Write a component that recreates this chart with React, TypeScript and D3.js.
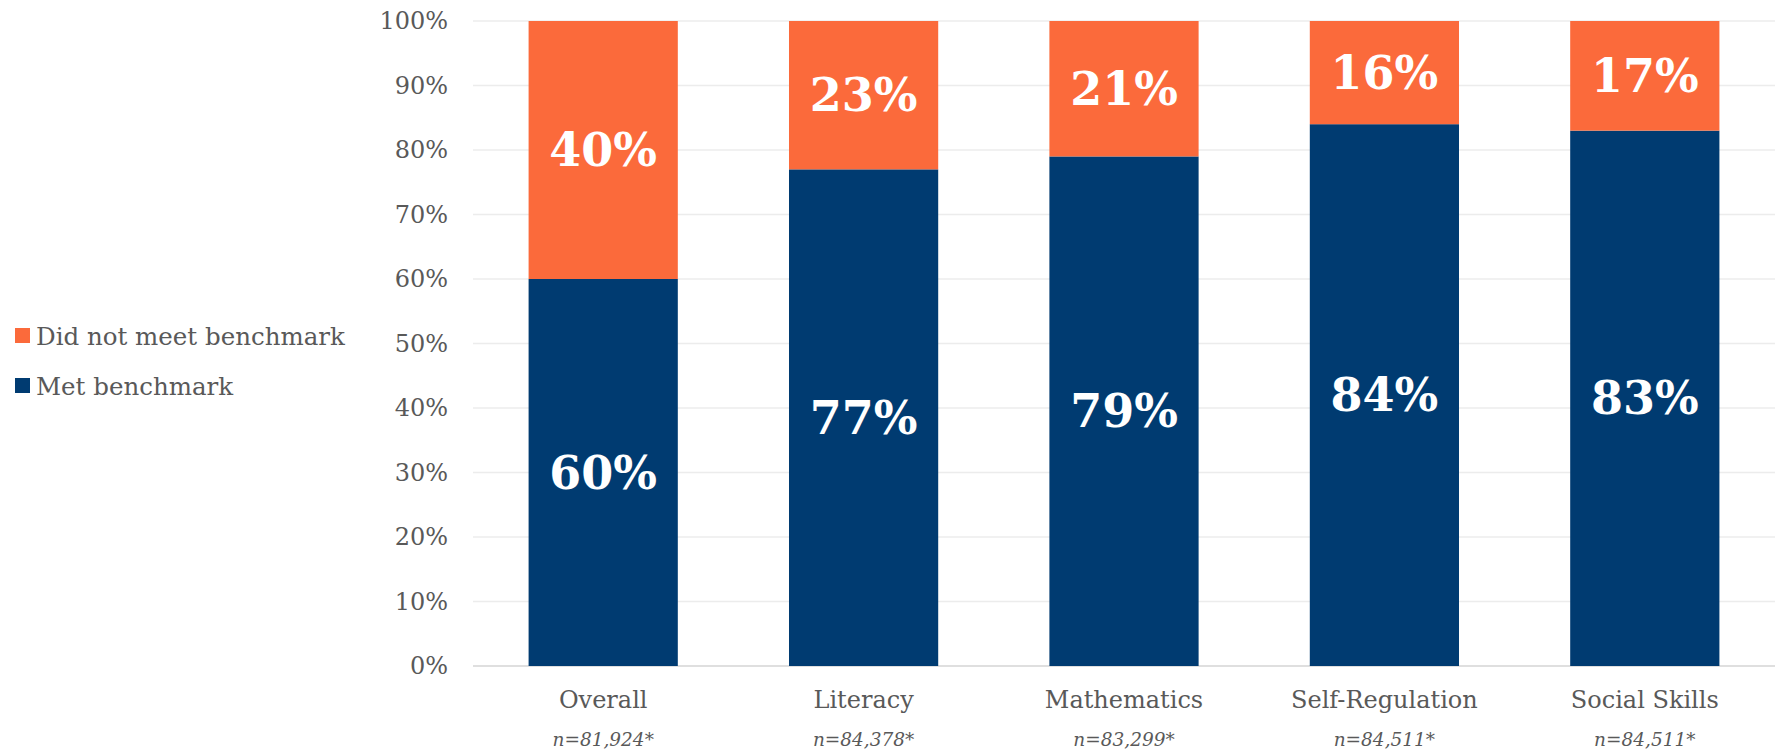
import React from "react";
import * as d3 from "d3";

const categories = ["Overall", "Literacy", "Mathematics", "Self-Regulation", "Social Skills"];
const sampleSizes = ["n=81,924*", "n=84,378*", "n=83,299*", "n=84,511*", "n=84,511*"];
const metBenchmark = [60, 77, 79, 84, 83];
const didNotMeet = [40, 23, 21, 16, 17];
const yTicks = [0, 10, 20, 30, 40, 50, 60, 70, 80, 90, 100];

const NAVY = "#003B71";
const ORANGE = "#FB6A3B";
const FONT = "'DejaVu Serif', Georgia, serif";

export default function App() {
  const W = 1775, H = 750;
  const x0 = 473, x1 = 1775, yTop = 21, yBot = 666;
  const x = d3.scaleBand<string>().domain(categories).range([x0, x1]).paddingInner(0.427).paddingOuter(0.2135);
  const y = d3.scaleLinear().domain([0, 100]).range([yBot, yTop]);
  const bw = x.bandwidth();

  return (
    <svg width={W} height={H} style={{ position: "absolute", left: 0, top: 0, background: "#fff" }} fontFamily={FONT}>
      {yTicks.map((t) => (
        <g key={t}>
          <line x1={x0} x2={x1} y1={y(t)} y2={y(t)} stroke={t === 0 ? "#d4d4d4" : "#ececec"} strokeWidth={1.5} />
          <text x={448} y={y(t)} textAnchor="end" dominantBaseline="central" fontSize={24} fill="#595959">
            {t}%
          </text>
        </g>
      ))}
      {categories.map((c, i) => {
        const bx = x(c)!;
        const cx = bx + bw / 2;
        const m = metBenchmark[i];
        const n = didNotMeet[i];
        return (
          <g key={c}>
            <rect x={bx} y={y(m)} width={bw} height={y(0) - y(m)} fill={NAVY} />
            <rect x={bx} y={y(m + n)} width={bw} height={y(m) - y(m + n)} fill={ORANGE} />
            <text x={cx} y={(y(0) + y(m)) / 2} textAnchor="middle" dominantBaseline="central" fontSize={46} fontWeight="bold" fill="#fff">
              {m}%
            </text>
            <text x={cx} y={(y(m) + y(m + n)) / 2} textAnchor="middle" dominantBaseline="central" fontSize={46} fontWeight="bold" fill="#fff">
              {n}%
            </text>
            <text x={cx} y={708} textAnchor="middle" fontSize={24} fill="#595959">
              {c}
            </text>
            <text x={cx} y={746} textAnchor="middle" fontSize={18.5} fontStyle="italic" fill="#595959">
              {sampleSizes[i]}
            </text>
          </g>
        );
      })}
      <rect x={15} y={328} width={15} height={15} fill={ORANGE} />
      <text x={36} y={345} fontSize={24.5} fill="#595959">Did not meet benchmark</text>
      <rect x={15} y={378} width={15} height={15} fill={NAVY} />
      <text x={36} y={395} fontSize={24.5} fill="#595959">Met benchmark</text>
    </svg>
  );
}
